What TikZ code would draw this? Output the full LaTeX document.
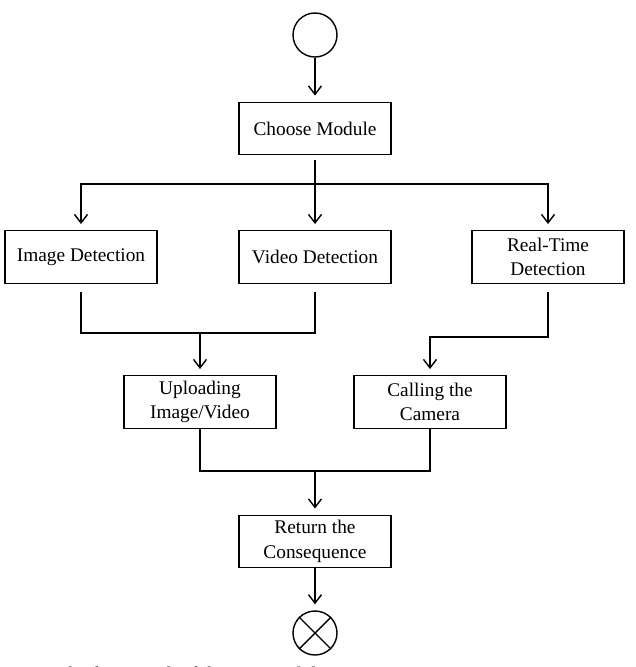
\documentclass[tikz,border=0pt]{standalone}
\usepackage{fontspec}
\setmainfont{Liberation Serif}
\usetikzlibrary{arrows.meta}
\begin{document}
\begin{tikzpicture}[
 proc/.style={draw,line width=0.8pt,align=center,font=\fontsize{11}{14}\selectfont,minimum width=3.04cm,minimum height=1.05cm,inner sep=1pt},
 term/.style={draw,line width=0.8pt,circle,minimum size=0.88cm,inner sep=0pt},
 flow/.style={->,line width=0.8pt,shorten >=0.12cm},
 link/.style={line width=0.8pt},
 >={Straight Barb[length=1.7mm,width=2.6mm]}]
\useasboundingbox (0,0) rectangle (12.7,-13.34);
\node[term] (start) at (6.30,-0.70) {};
\node[proc] (choose) at (6.30,-2.57) {Choose Module};
\node[proc] (img) at (1.62,-5.14) {Image Detection};
\node[proc] (vid) at (6.30,-5.14) {Video Detection};
\node[proc] (rt) at (10.96,-5.14) {Real-Time\\Detection};
\node[proc] (upl) at (4.00,-8.04) {Uploading\\Image/Video};
\node[proc] (call) at (8.60,-8.04) {Calling the\\Camera};
\node[proc] (ret) at (6.30,-10.83) {Return the\\Consequence};
\node[term] (stop) at (6.30,-12.66) {};
\draw[link] (stop.north west) -- (stop.south east);
\draw[link] (stop.north east) -- (stop.south west);
\coordinate (split) at (6.30,-3.68);
\coordinate (joinA) at (4.00,-6.66);
\coordinate (joinB) at (8.60,-6.74);
\coordinate (joinC) at (6.30,-9.42);
\draw[flow] (start) -- (choose);
\draw[flow,shorten <=0.1cm] (choose) -- (vid);
\draw[flow] (split) -| (img.north);
\draw[flow] (split) -| (rt.north);
\draw[link,shorten <=0.16cm,shorten >=0.16cm] (img.south) |- (joinA) -| (vid.south);
\draw[flow] (joinA) -- (upl);
\draw[flow,shorten <=0.16cm] (rt.south) |- (joinB) -- (call);
\draw[link] (upl.south) |- (joinC) -| (call.south);
\draw[flow] (joinC) -- (ret);
\draw[flow] (ret) -- (stop);
\node[font=\fontsize{11}{13}\selectfont,anchor=north west,inner sep=0pt] (caption) at (0.1,-13.33)
 {Fig. 1 The framework of the proposed detection system};
\end{tikzpicture}
\end{document}
